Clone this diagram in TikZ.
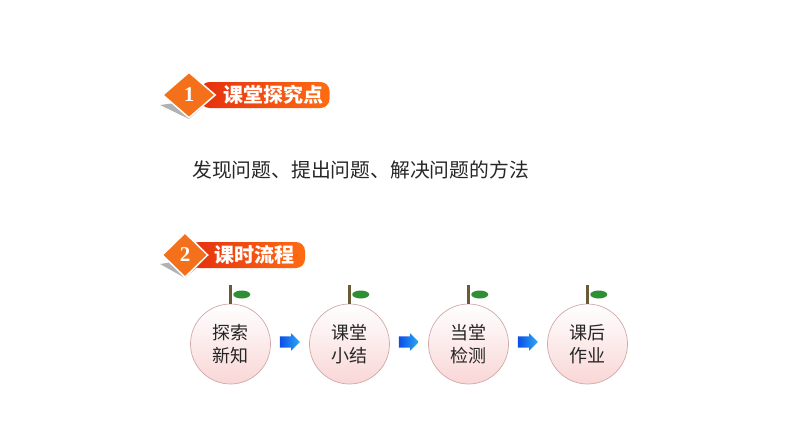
\documentclass[tikz,border=0pt]{standalone}
\usepackage{fontspec}
\setmainfont{Liberation Serif}
\newfontfamily\cjk{Noto Sans CJK SC}
\usetikzlibrary{shapes.geometric, shapes.arrows, positioning}
\definecolor{bannerred}{HTML}{E5300F}
\definecolor{bannerorange}{HTML}{FF6C12}
\definecolor{badgeorange}{HTML}{F4701A}
\definecolor{applepink}{HTML}{F9D6D6}
\definecolor{appleedge}{HTML}{CFA9A6}
\definecolor{stembrown}{HTML}{6B5A36}
\definecolor{leafgreen}{HTML}{2F8F34}
\definecolor{arrowblue}{HTML}{0B4FE6}
\definecolor{arrowsky}{HTML}{2FA8F5}

\begin{document}
\begin{tikzpicture}[
    x=1pt, y=-1pt,
    badge/.style={diamond, draw=white, line width=1.5pt, aspect=1.15, inner sep=0pt, font=\fontsize{21}{21}\selectfont\bfseries, text=white, fill=badgeorange},
    banner/.style={rectangle, rounded corners=9pt, minimum height=26pt, inner sep=0pt, left color=bannerred, right color=bannerorange, text=white, font=\cjk\fontsize{20}{20}\selectfont\bfseries},
    apple/.style={circle, draw=appleedge, line width=0.7pt, minimum size=80pt, inner sep=0pt, outer sep=0pt, top color=white, bottom color=applepink, align=center, font=\cjk\fontsize{18}{23}\selectfont, text=black!85},
    stem/.style={rectangle, fill=stembrown, minimum width=3.5pt, minimum height=19pt, inner sep=0pt, outer sep=0pt},
    leaf/.style={ellipse, fill=leafgreen, minimum width=17pt, minimum height=8pt, inner sep=0pt, outer sep=0pt},
    blockarrow/.style={single arrow, inner xsep=0pt, inner ysep=5.5pt, outer sep=0pt, minimum height=20pt, single arrow head extend=3pt, single arrow head indent=0pt, xshift=-3pt, yshift=2pt, left color=arrowblue, right color=arrowsky}
]
    \useasboundingbox (0,0) rectangle (794,447);

    % Headings
    \fill[black!30] (160,105) -- (189,119) -- (205,105) -- (190,101) -- cycle;
    \node[banner, minimum width=129pt] (banner1) at (265,95) {\hspace{16pt}课堂探究点};
    \node[badge, minimum width=53pt, minimum height=46pt] (badge1) at (189,95) {1};
    \node[font=\cjk\fontsize{19.8}{20}\selectfont, text=black!85] (goal) at (360.5,170) {发现问题、提出问题、解决问题的方法};

    \fill[black!30] (160,264) -- (185,278) -- (200,265) -- (186,260) -- cycle;
    \node[banner, minimum width=115pt] (banner2) at (247.5,255) {\hspace{14pt}课时流程};
    \node[badge, minimum width=46pt, minimum height=45pt] (badge2) at (185,255) {2};

    % Apples
    \node[apple] (explore) at (230.5,344) {探索\\新知};
    \node[apple, right=39pt of explore] (summary) {课堂\\小结};
    \node[apple, right=39pt of summary] (check) {当堂\\检测};
    \node[apple, right=39pt of check] (homework) {课后\\作业};

    % Stems and leaves
    \node[stem, above=0pt of explore] (stem1) {};
    \node[stem, above=0pt of summary] (stem2) {};
    \node[stem, above=0pt of check] (stem3) {};
    \node[stem, above=0pt of homework] (stem4) {};
    \node[leaf, right=1pt of stem1] (leaf1) {};
    \node[leaf, right=1pt of stem2] (leaf2) {};
    \node[leaf, right=1pt of stem3] (leaf3) {};
    \node[leaf, right=1pt of stem4] (leaf4) {};

    % Arrows
    \path (explore) -- node[blockarrow] (arrow1) {} (summary);
    \path (summary) -- node[blockarrow] (arrow2) {} (check);
    \path (check) -- node[blockarrow] (arrow3) {} (homework);
\end{tikzpicture}
\end{document}
